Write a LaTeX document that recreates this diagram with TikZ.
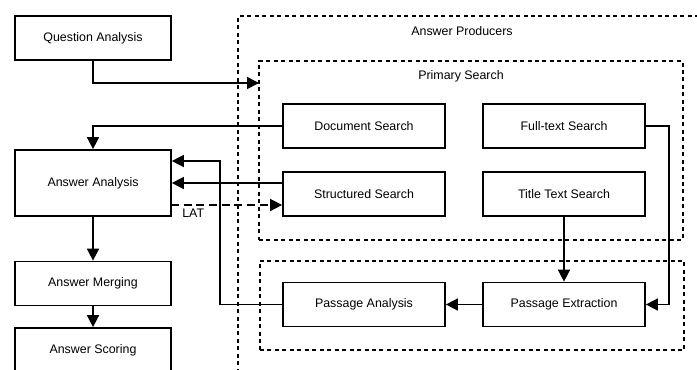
\documentclass[tikz,border=0pt]{standalone}
\usepackage{fontspec}
\setmainfont{Liberation Sans}
\usetikzlibrary{arrows.meta,positioning}

\begin{document}
\begin{tikzpicture}[x=0.75pt,y=-0.75pt,font=\fontsize{9.3}{11}\selectfont,
  box/.style={draw,line width=1.3pt,inner sep=0pt,minimum width=117pt,minimum height=33pt},
  sbox/.style={box,minimum width=121.5pt},
  group/.style={draw,line width=1.2pt,dash pattern=on 3pt off 2.6pt,inner sep=0pt},
  >={Triangle[length=9pt,width=9pt]},line width=1.2pt]
\useasboundingbox (0,0) rectangle (697,369);
\clip (0,0) rectangle (697,369);
% containers
\node[group,minimum width=350pt,minimum height=273pt] (producers) at (471.5,198) {};
\node (prodlabel) at (462,31) {Answer Producers};
\node[group,minimum width=318pt,minimum height=134pt] (primary) at (471,150.5) {};
\node (primlabel) at (461,76) {Primary Search};
\node[group,minimum width=318pt,minimum height=67pt] (passages) at (472,305.5) {};
% left column
\node[box] (qa) at (93,38) {Question Analysis};
\node[box,minimum height=49.5pt] (aa) at (93,183) {Answer Analysis};
\node[box] (am) at (93,283.5) {Answer Merging};
\node[box] (as) at (93,350) {Answer Scoring};
% searches
\node[sbox] (ds) at (364,126) {Document Search};
\node[sbox] (ss) at (364,194) {Structured Search};
\node[sbox] (ft) at (564,126) {Full-text Search};
\node[sbox] (tt) at (564,194) {Title Text Search};
\node[sbox] (pa) at (364,304.5) {Passage Analysis};
\node[sbox] (pe) at (564,304.5) {Passage Extraction};
\coordinate (qin) at (259,83);
\coordinate (bend) at (220,161);
\coordinate (lat) at (171,205);
\draw[->] (qa.south) |- (qin);
\draw[->] (ds.west) -| (aa.north);
\draw[->] (aa.east -| ss.west) -- (aa.east);
\draw[->] (pa.west) -| (bend) -- (bend -| aa.east);
\draw[->,dash pattern=on 6pt off 3.5pt] (lat) -- node[pos=0.2,below=-1pt]{LAT} (lat -| ss.west);
\draw[->] (aa) -- (am);
\draw[->] (am) -- (as);
\draw[->] (tt) -- (pe);
\draw[->] (pe) -- (pa);
\draw[->] (ft.east) -- ++(23,0) |- (pe.east);
\end{tikzpicture}
\end{document}
